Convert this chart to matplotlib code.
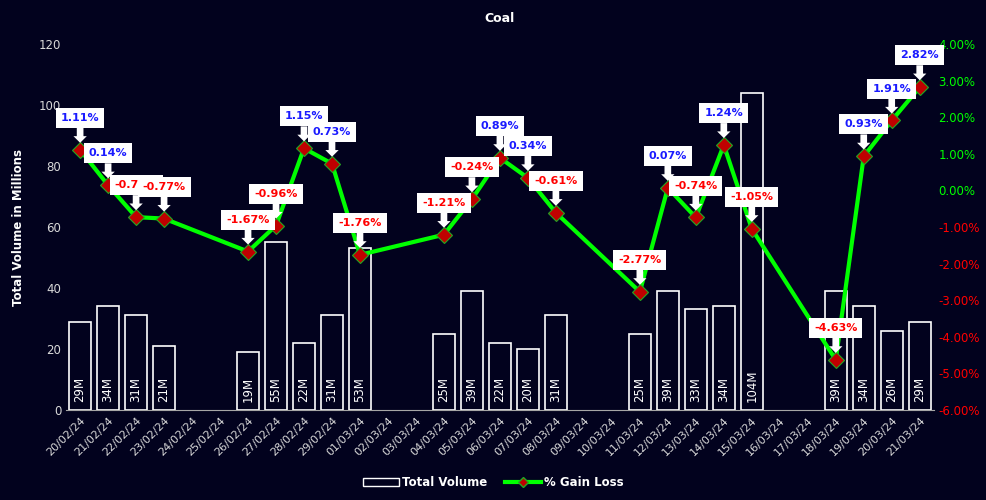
import numpy as np
import matplotlib.pyplot as plt
from matplotlib.lines import Line2D
from matplotlib.patches import Patch

# Daily data (None = no trading)
dates = ['20/02/24', '21/02/24', '22/02/24', '23/02/24', '24/02/24', '25/02/24',
         '26/02/24', '27/02/24', '28/02/24', '29/02/24', '01/03/24', '02/03/24',
         '03/03/24', '04/03/24', '05/03/24', '06/03/24', '07/03/24', '08/03/24',
         '09/03/24', '10/03/24', '11/03/24', '12/03/24', '13/03/24', '14/03/24',
         '15/03/24', '16/03/24', '17/03/24', '18/03/24', '19/03/24', '20/03/24',
         '21/03/24']
volume = [29, 34, 31, 21, None, None, 19, 55, 22, 31, 53, None, None, 25, 39, 22,
          20, 31, None, None, 25, 39, 33, 34, 104, None, None, 39, 34, 26, 29]
gain = [1.11, 0.14, -0.73, -0.77, None, None, -1.67, -0.96, 1.15, 0.73, -1.76, None,
        None, -1.21, -0.24, 0.89, 0.34, -0.61, None, None, -2.77, 0.07, -0.74, 1.24,
        -1.05, None, None, -4.63, 0.93, 1.91, 2.82]

bg = '#02021e'
green = '#00ff00'
red = '#ff0000'

fig = plt.figure(figsize=(9.87, 5.0), dpi=100, facecolor=bg)
ax = fig.add_axes([0.067, 0.18, 0.879, 0.732])
ax.set_facecolor(bg)
ax2 = ax.twinx()

x = np.arange(len(dates))
vi = [i for i, v in enumerate(volume) if v is not None]
vv = [volume[i] for i in vi]
ax.bar(vi, vv, width=0.78, facecolor=bg, edgecolor='white', linewidth=1.2)
for i, v in zip(vi, vv):
    ax.text(i, 2.5, f'{v}M', rotation=90, color='white', ha='center', va='bottom',
            fontsize=8.5)

ax.set_xlim(-0.5, len(dates) - 0.5)
ax.set_ylim(0, 120)
ax.set_yticks([0, 20, 40, 60, 80, 100, 120])
ax.set_xticks(x)
ax.set_xticklabels(dates, rotation=45, ha='right', rotation_mode='anchor',
                   color='#d9d9d9', fontsize=8)
ax.tick_params(axis='y', colors='#d9d9d9', labelsize=8.5, length=0)
ax.tick_params(axis='x', length=0, pad=4)
ax.set_ylabel('Total Volume in Millions', color='white', fontsize=8.5,
              fontweight='bold', labelpad=10)
for s in ['top', 'left', 'right']:
    ax.spines[s].set_visible(False)
    ax2.spines[s].set_visible(False)
ax.spines['bottom'].set_color('#a6a6a6')
ax2.spines['bottom'].set_visible(False)

gi = [i for i, g in enumerate(gain) if g is not None]
gv = [gain[i] for i in gi]
ax2.plot(gi, gv, color=green, linewidth=3, marker='D', markersize=8,
         markerfacecolor='#c00000', markeredgecolor='#22aa22', markeredgewidth=0.8,
         zorder=3)
ax2.set_ylim(-6, 4)
ax2.set_yticks(np.arange(-6, 5, 1))
ax2.set_yticklabels([f'{t:.2f}%' for t in np.arange(-6, 5, 1)], fontsize=8.5)
for lab, t in zip(ax2.get_yticklabels(), np.arange(-6, 5, 1)):
    lab.set_color(green if t >= 0 else red)
ax2.tick_params(axis='y', length=0)

# callout labels above each point
for i, g in zip(gi, gv):
    ax2.annotate(f'{g:.2f}%', xy=(i, g), xytext=(0, 23), textcoords='offset points',
                 ha='center', va='center', fontsize=8, fontweight='bold',
                 color='#1a1aff' if g >= 0 else red,
                 bbox=dict(boxstyle='square,pad=0.45', fc='white', ec='none'),
                 arrowprops=dict(arrowstyle='simple,head_length=0.6,head_width=1.2,tail_width=0.6',
                                 fc='white', ec='none', shrinkA=0, shrinkB=5),
                 zorder=4)

ax.set_title('Coal', color='white', fontsize=9, fontweight='bold', pad=16)

handles = [Patch(facecolor=bg, edgecolor='white', label='Total Volume'),
           Line2D([], [], color=green, linewidth=3, marker='D', markersize=5,
                  markerfacecolor='#c00000', markeredgecolor='#22aa22',
                  label='% Gain Loss')]
leg = fig.legend(handles=handles, loc='lower center', bbox_to_anchor=(0.5, 0.0),
                 ncol=2, frameon=False, fontsize=8.5, handlelength=3,
                 columnspacing=1.5, handletextpad=0.3)
for t in leg.get_texts():
    t.set_color('white')
    t.set_fontweight('bold')

fig.savefig('out.png', dpi=100, facecolor=bg)
